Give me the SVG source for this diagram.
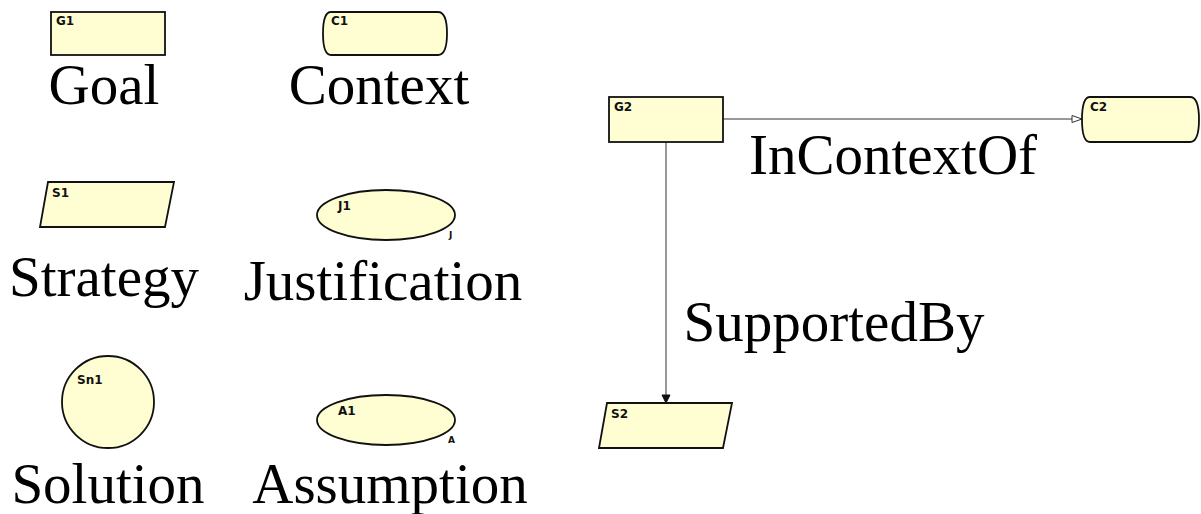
<svg xmlns="http://www.w3.org/2000/svg" width="1201" height="514" viewBox="0 0 1201 514">
  <style>
    .node { fill: #FEFED2; stroke: #111; stroke-width: 1.8; }
    .id { font-family: "DejaVu Sans", Verdana, sans-serif; font-weight: bold; font-size: 12px; fill: #111; }
    .tag { font-family: "DejaVu Sans", Verdana, sans-serif; font-weight: bold; font-size: 9px; fill: #111; }
    .caption { font-family: "Liberation Serif", "Times New Roman", serif; font-size: 57px; fill: #000; text-anchor: middle; }
    .edge { stroke: #333; stroke-width: 1; fill: none; }
  </style>
  <defs>
    <marker id="solid" markerWidth="10" markerHeight="10" refX="9" refY="5" orient="auto" markerUnits="userSpaceOnUse">
      <path d="M1,1 L9,5 L1,9 Z" fill="#111" stroke="#111" stroke-width="1"/>
    </marker>
    <marker id="hollow" markerWidth="12" markerHeight="10" refX="11" refY="5" orient="auto" markerUnits="userSpaceOnUse">
      <path d="M1,1.5 L11,5 L1,8.5 Z" fill="#fff" stroke="#333" stroke-width="1"/>
    </marker>
  </defs>

  <rect width="1201" height="514" fill="#fff"/>

  <!-- legend -->
  <g id="G1">
    <rect class="node" x="51" y="12" width="114" height="43"/>
    <text class="id" x="56" y="25">G1</text>
    <text class="caption" x="104" y="104">Goal</text>
  </g>
  <g id="C1">
    <path class="node" d="M331,12 H438 Q447,12 447,33.5 Q447,55 438,55 H331 Q323,55 323,33.5 Q323,12 331,12 Z"/>
    <text class="id" x="331" y="25">C1</text>
    <text class="caption" x="379" y="104">Context</text>
  </g>
  <g id="S1">
    <polygon class="node" points="48,182 174,182 165,227 40,227"/>
    <text class="id" x="52" y="197">S1</text>
    <text class="caption" x="104" y="296">Strategy</text>
  </g>
  <g id="J1">
    <ellipse class="node" cx="386" cy="215" rx="69" ry="25"/>
    <text class="id" x="338" y="210">J1</text>
    <text class="tag" x="449" y="238">J</text>
    <text class="caption" x="383" y="300">Justification</text>
  </g>
  <g id="Sn1">
    <circle class="node" cx="108" cy="402" r="46"/>
    <text class="id" x="77" y="384">Sn1</text>
    <text class="caption" x="108" y="503">Solution</text>
  </g>
  <g id="A1">
    <ellipse class="node" cx="386" cy="420" rx="69" ry="25"/>
    <text class="id" x="338" y="415">A1</text>
    <text class="tag" x="448" y="443">A</text>
    <text class="caption" x="390" y="503">Assumption</text>
  </g>

  <!-- connectors -->
  <g id="connectors">
    <line class="edge" x1="723" y1="119" x2="1082" y2="119" marker-end="url(#hollow)"/>
    <text class="caption" x="893" y="174">InContextOf</text>
    <line class="edge" x1="666" y1="142" x2="666" y2="403" marker-end="url(#solid)"/>
    <text class="caption" x="834" y="341">SupportedBy</text>
  </g>

  <!-- example -->
  <g id="G2">
    <rect class="node" x="609" y="97" width="114" height="45"/>
    <text class="id" x="614" y="111">G2</text>
  </g>
  <g id="C2">
    <path class="node" d="M1090,97 H1190 Q1199,97 1199,119.5 Q1199,142 1190,142 H1090 Q1082,142 1082,119.5 Q1082,97 1090,97 Z"/>
    <text class="id" x="1090" y="111">C2</text>
  </g>
  <g id="S2">
    <polygon class="node" points="607,403 732,403 723,448 599,448"/>
    <text class="id" x="611" y="418">S2</text>
  </g>
</svg>
